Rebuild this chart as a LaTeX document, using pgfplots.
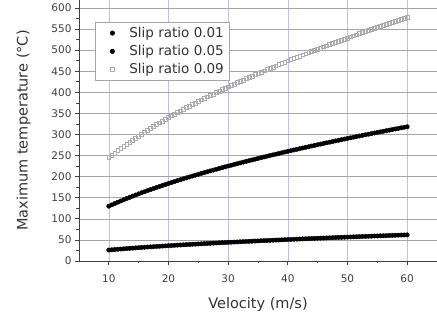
\documentclass[border=0pt]{standalone}
\usepackage{pgfplots}
\usepackage{pgfplotstable}
\pgfplotsset{compat=1.18}
\usepackage{fontspec}
\setmainfont{DejaVu Sans}
\definecolor{vgrid}{RGB}{190,190,232}
\definecolor{hgrid}{RGB}{165,165,165}
\pgfplotstableread{
v a b c
10 26.0 130.0 245.0
10.5 26.6 133.2 250.7
11 27.2 136.3 256.2
11.5 27.8 139.4 261.6
12 28.4 142.4 266.9
12.5 28.9 145.3 272.1
13 29.5 148.2 277.2
13.5 30.0 151.0 282.2
14 30.6 153.8 287.1
14.5 31.1 156.5 291.9
15 31.6 159.2 296.6
15.5 32.1 161.9 301.3
16 32.6 164.4 305.8
16.5 33.1 167.0 310.4
17 33.5 169.5 314.8
17.5 34.0 172.0 319.2
18 34.5 174.4 323.5
18.5 34.9 176.8 327.7
19 35.4 179.2 331.9
19.5 35.8 181.5 336.1
20 36.3 183.8 340.1
20.5 36.7 186.1 344.2
21 37.2 188.4 348.2
21.5 37.6 190.6 352.1
22 38.0 192.8 356.0
22.5 38.4 195.0 359.9
23 38.8 197.2 363.7
23.5 39.2 199.3 367.4
24 39.6 201.4 371.2
24.5 40.0 203.5 374.8
25 40.4 205.5 378.5
25.5 40.8 207.6 382.1
26 41.2 209.6 385.7
26.5 41.6 211.6 389.2
27 42.0 213.6 392.7
27.5 42.4 215.6 396.2
28 42.7 217.5 399.7
28.5 43.1 219.5 403.1
29 43.5 221.4 406.5
29.5 43.8 223.3 409.8
30 44.2 225.2 413.2
30.5 44.5 227.0 416.4
31 44.9 228.9 419.7
31.5 45.2 230.7 423.0
32 45.6 232.6 426.2
32.5 45.9 234.4 429.4
33 46.3 236.2 432.6
33.5 46.6 237.9 435.7
34 47.0 239.7 438.8
34.5 47.3 241.5 441.9
35 47.6 243.2 445.0
35.5 48.0 244.9 448.1
36 48.3 246.7 451.1
36.5 48.6 248.4 454.1
37 48.9 250.1 457.1
37.5 49.3 251.7 460.1
38 49.6 253.4 463.1
38.5 49.9 255.1 466.0
39 50.2 256.7 468.9
39.5 50.5 258.4 471.8
40 50.8 260.0 474.7
40.5 51.2 261.6 477.6
41 51.5 263.2 480.4
41.5 51.8 264.8 483.3
42 52.1 266.4 486.0
42.5 52.4 268.0 488.9
43 52.7 269.6 491.6
43.5 53.0 271.1 494.4
44 53.3 272.7 497.1
44.5 53.6 274.2 499.9
45 53.9 275.8 502.6
45.5 54.1 277.3 505.3
46 54.4 278.8 508.0
46.5 54.7 280.3 510.6
47 55.0 281.8 513.3
47.5 55.3 283.3 515.9
48 55.6 284.8 518.6
48.5 55.9 286.3 521.2
49 56.1 287.8 523.8
49.5 56.4 289.2 526.4
50 56.7 290.7 528.9
50.5 57.0 292.1 531.5
51 57.3 293.6 534.0
51.5 57.5 295.0 536.6
52 57.8 296.5 539.1
52.5 58.1 297.9 541.6
53 58.3 299.3 544.1
53.5 58.6 300.7 546.6
54 58.9 302.1 549.1
54.5 59.2 303.5 551.5
55 59.4 304.9 554.0
55.5 59.7 306.3 556.4
56 59.9 307.6 558.9
56.5 60.2 309.0 561.3
57 60.5 310.4 563.7
57.5 60.7 311.7 566.1
58 61.0 313.1 568.5
58.5 61.2 314.4 570.9
59 61.5 315.8 573.2
59.5 61.8 317.1 575.6
60 62.0 318.4 577.9
}\data
\begin{document}
\begin{tikzpicture}
\begin{axis}[
  scale only axis,
  width=358pt, height=261pt,
  xmin=5, xmax=65, ymin=0, ymax=619,
  axis x line*=bottom, axis y line*=left,
  xtick={10,20,30,40,50,60},
  ytick={0,50,...,600},
  minor x tick num=1, minor y tick num=1,
  tick align=outside,
  major tick length=4pt, minor tick length=2.5pt,
  tick style={black!75, line width=0.7pt},
  axis line style={black!75, line width=0.9pt},
  xmajorgrids, ymajorgrids,
  x grid style={draw=vgrid, line width=0.6pt},
  y grid style={draw=hgrid, line width=0.6pt},
  /pgf/number format/assume math mode=true,
  ticklabel style={font=\fontsize{10.5}{12}\selectfont, text=black!75},
  xticklabel style={yshift=-6pt},
  xlabel={Velocity (m/s)}, ylabel={Maximum temperature (\textdegree C)},
  label style={font=\fontsize{14.5}{16}\selectfont, text=black!80},
  xlabel style={at={(ticklabel cs:0.5)}, anchor=north, yshift=-8pt},
  ylabel style={at={(ticklabel cs:0.5)}, anchor=south, yshift=14pt},
  legend style={at={(axis cs:7.7,567)}, anchor=north west, draw=hgrid,
    font=\fontsize{13.5}{15}\selectfont, text=black!80, row sep=2.5pt,
    fill=white, inner xsep=3pt, inner ysep=3pt, line width=0.6pt,
    /tikz/every odd column/.append style={column sep=7pt}},
  legend image code/.code={\path[draw=none,fill=none] (-14pt,0pt) (8pt,0pt);
    \draw[#1, only marks] plot coordinates {(0pt,0pt)};},
  legend cell align=left,
]
\addplot[only marks, mark=*, mark size=2.2pt, black] table[x=v, y=a] {\data};
\addlegendentry{Slip ratio 0.01}
\addplot[only marks, mark=*, mark size=2.2pt, black] table[x=v, y=b] {\data};
\addlegendentry{Slip ratio 0.05}
\addplot[only marks, mark=square, mark size=1.9pt, gray!65, mark options={line width=0.6pt}] table[x=v, y=c] {\data};
\addlegendentry{Slip ratio 0.09}
\end{axis}
\pgfresetboundingbox
\path[use as bounding box] (-79pt,-59pt) rectangle (358pt,261pt);
\end{tikzpicture}
\end{document}
